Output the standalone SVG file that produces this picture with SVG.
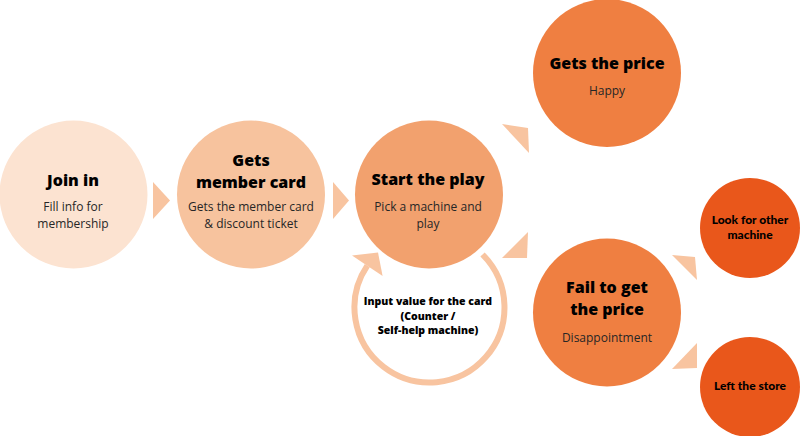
<svg xmlns="http://www.w3.org/2000/svg" width="800" height="436" viewBox="0 0 800 436">
<style>
.h{font-family:"Open Sans","Noto Sans",sans-serif;font-weight:800;font-size:16px;fill:#000;text-anchor:middle}
.b{font-family:"Open Sans","Noto Sans",sans-serif;font-size:12px;fill:#262626;text-anchor:middle}
.s{font-family:"Open Sans","Noto Sans",sans-serif;font-weight:800;font-size:10.5px;fill:#000;text-anchor:middle}
.g{font-family:Lato,"Noto Sans",sans-serif;font-weight:900;font-size:12px;fill:#000;text-anchor:middle}
.tri{fill:#F8C4A0}
</style>
<rect width="800" height="436" fill="#fff"/>
<g id="connectors">
<polygon class="tri" points="153,182 170,200.5 153,219"/>
<polygon class="tri" points="333,182 349,200.5 333,219"/>
<polygon class="tri" points="502,124 528,128 529,153"/>
<polygon class="tri" points="528,232 527,258 502,258"/>
<polygon class="tri" points="672,255 695,257 697,280"/>
<polygon class="tri" points="697,343 697,368 672,369"/>
<path d="M482.5,254.5 A75,75 0 1 1 367.3,265.6" fill="none" stroke="#F8C4A0" stroke-width="6"/>
<polygon class="tri" points="352,255.5 378,252.5 382.6,276"/>
</g>
<g id="join">
<circle cx="73.5" cy="194.5" r="74" fill="#FCE3D1"/>
<text class="h" x="73" y="186">Join in</text>
<text class="b" x="73" y="211">Fill info for</text>
<text class="b" x="73" y="228">membership</text>
</g>
<g id="member">
<circle cx="251" cy="194.5" r="74" fill="#F7C39E"/>
<text class="h" x="251" y="166">Gets</text>
<text class="h" x="251" y="188">member card</text>
<text class="b" x="251" y="211">Gets the member card</text>
<text class="b" x="251" y="228">&amp; discount ticket</text>
</g>
<g id="play">
<circle cx="429" cy="194.5" r="74" fill="#F2A16E"/>
<text class="h" x="428" y="185">Start the play</text>
<text class="b" x="428" y="211">Pick a machine and</text>
<text class="b" x="428" y="228">play</text>
</g>
<g id="input">
<text class="s" x="428" y="305">Input value for the card</text>
<text class="s" x="428" y="319.5">(Counter /</text>
<text class="s" x="428" y="334">Self-help machine)</text>
</g>
<g id="price">
<circle cx="607" cy="73" r="74" fill="#EF7F41"/>
<text class="h" x="607" y="69">Gets the price</text>
<text class="b" x="607" y="95">Happy</text>
</g>
<g id="fail">
<circle cx="607" cy="312.5" r="74" fill="#EF7F41"/>
<text class="h" x="607" y="293">Fail to get</text>
<text class="h" x="607" y="315">the price</text>
<text class="b" x="607" y="342">Disappointment</text>
</g>
<g id="other">
<circle cx="750" cy="228" r="50" fill="#E9571B"/>
<text class="g" x="750" y="224">Look for other</text>
<text class="g" x="750" y="239">machine</text>
</g>
<g id="left">
<circle cx="750" cy="387" r="50" fill="#E9571B"/>
<text class="g" x="750" y="390">Left the store</text>
</g>
</svg>
